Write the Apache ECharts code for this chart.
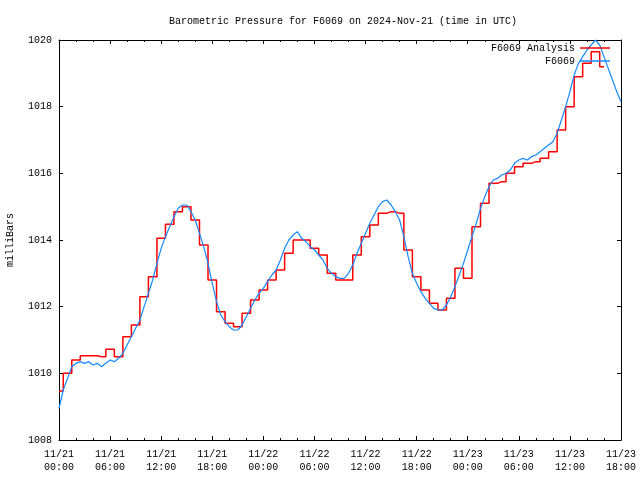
<!DOCTYPE html>
<html>
<head>
<meta charset="utf-8">
<script src="https://cdn.jsdelivr.net/npm/echarts@6/dist/echarts.min.js"></script>
<style>html,body{margin:0;padding:0;background:#fff;}#c{width:640px;height:480px;}</style>
</head>
<body>
<div id="c"></div>
<script>
// x tick labels every 6 hours from 2024-11-21 00:00 UTC
var xTickLabels = ["11/21\n00:00","11/21\n06:00","11/21\n12:00","11/21\n18:00","11/22\n00:00","11/22\n06:00","11/22\n12:00","11/22\n18:00","11/23\n00:00","11/23\n06:00","11/23\n12:00","11/23\n18:00"];
var yTicks = [1008, 1010, 1012, 1014, 1016, 1018, 1020];

// F6069 Analysis: hourly values (hour 0 .. 64)
var analysisValues = [
 1009.47,1010.0,1010.4,1010.53,1010.53,1010.5,1010.72,1010.5,1011.1,1011.45,
 1012.3,1012.9,1014.05,1014.47,1014.85,1015.0,1014.6,1013.85,1012.8,1011.85,
 1011.5,1011.4,1011.8,1012.2,1012.5,1012.8,1013.1,1013.6,1014.0,1014.0,
 1013.75,1013.55,1013.0,1012.8,1012.8,1013.55,1014.1,1014.45,1014.8,1014.85,
 1014.8,1013.7,1012.9,1012.5,1012.1,1011.9,1012.25,1013.15,1012.85,1014.4,
 1015.1,1015.7,1015.75,1016.0,1016.2,1016.3,1016.35,1016.45,1016.65,1017.3,
 1018.0,1018.9,1019.3,1019.65,1019.2
];

// F6069 observations: every half hour (hour 0 .. 66)
var stationValues = [
 1008.95,1009.5,1009.85,1010.2,1010.3,1010.35,1010.3,1010.35,1010.25,1010.3,
 1010.2,1010.3,1010.4,1010.35,1010.45,1010.6,1010.85,1011.1,1011.35,1011.6,
 1012.0,1012.4,1012.8,1013.3,1013.75,1014.1,1014.4,1014.7,1014.95,1015.05,
 1015.05,1014.85,1014.6,1014.2,1013.8,1013.3,1012.7,1012.15,1011.75,1011.55,
 1011.4,1011.3,1011.3,1011.45,1011.7,1011.95,1012.2,1012.4,1012.55,1012.75,
 1012.95,1013.1,1013.4,1013.75,1014.0,1014.15,1014.25,1014.05,1013.95,1013.8,
 1013.7,1013.55,1013.4,1013.15,1013.0,1012.9,1012.85,1012.85,1013.0,1013.25,
 1013.6,1013.9,1014.2,1014.5,1014.75,1015.0,1015.15,1015.2,1015.05,1014.85,
 1014.6,1014.1,1013.5,1013.0,1012.7,1012.45,1012.25,1012.1,1011.95,1011.9,
 1011.9,1012.05,1012.3,1012.6,1012.95,1013.3,1013.7,1014.1,1014.5,1014.95,
 1015.3,1015.6,1015.8,1015.85,1015.95,1016.0,1016.1,1016.3,1016.4,1016.45,
 1016.4,1016.5,1016.55,1016.65,1016.75,1016.85,1016.95,1017.2,1017.6,1018.0,
 1018.45,1018.95,1019.3,1019.5,1019.7,1019.85,1020.0,1019.85,1019.5,1019.15,
 1018.8,1018.45,1018.15
];

var analysisData = analysisValues.map(function(v, i){ return [i, v]; });
var stationData = stationValues.map(function(v, i){ return [i * 0.5, v]; });

var font = "'Liberation Mono','DejaVu Sans Mono',monospace";
var chart = echarts.init(document.getElementById('c'), null, {renderer: 'canvas'});

var xCommon = {
  type: 'value', min: 0, max: 66, interval: 6,
  axisLine: {show: true, onZero: false, lineStyle: {color: '#000', width: 1}},
  axisTick: {show: true, inside: true, length: 4, lineStyle: {color: '#000'}},
  minorTick: {show: true, splitNumber: 3, length: 2, lineStyle: {color: '#000'}},
  splitLine: {show: false}
};
var yCommon = {
  type: 'value', min: 1008, max: 1020, interval: 2,
  axisLine: {show: true, onZero: false, lineStyle: {color: '#000', width: 1}},
  axisTick: {show: true, inside: true, length: 4, lineStyle: {color: '#000'}},
  splitLine: {show: false}
};

chart.setOption({
  animation: false,
  backgroundColor: '#fff',
  title: {
    text: 'Barometric Pressure for F6069 on 2024-Nov-21 (time in UTC)',
    left: 338, textAlign: 'center', top: 10,
    textStyle: {fontFamily: font, fontSize: 10, fontWeight: 'normal', color: '#000', lineHeight: 13}
  },
  legend: {
    orient: 'vertical', right: 25, top: 37, align: 'right',
    icon: 'rect', itemWidth: 30, itemHeight: 1.5, itemGap: 1,
    textStyle: {fontFamily: font, fontSize: 10, color: '#000', lineHeight: 12},
    data: ['F6069 Analysis', 'F6069']
  },
  grid: {left: 59, right: 19, top: 40, bottom: 40, containLabel: false, outerBoundsMode: 'none'},
  xAxis: [
    Object.assign({}, xCommon, {
      position: 'bottom',
      axisLabel: {
        show: true, margin: 8, color: '#000', fontFamily: font, fontSize: 10, lineHeight: 13,
        formatter: function(v){ return xTickLabels[Math.round(v / 6)]; }
      }
    }),
    Object.assign({}, xCommon, {position: 'top', axisLabel: {show: false}})
  ],
  yAxis: [
    Object.assign({}, yCommon, {
      position: 'left',
      name: 'milliBars', nameLocation: 'middle', nameGap: 44, nameRotate: 90,
      nameTextStyle: {fontFamily: font, fontSize: 10, color: '#000'},
      axisLabel: {show: true, margin: 7, color: '#000', fontFamily: font, fontSize: 10,
        formatter: function(v){ return yTicks.indexOf(v) >= 0 ? String(v) : ''; }}
    }),
    Object.assign({}, yCommon, {position: 'right', axisLabel: {show: false}})
  ],
  series: [
    {
      name: 'F6069 Analysis', type: 'line', step: 'middle',
      xAxisIndex: 0, yAxisIndex: 0,
      data: analysisData, symbol: 'none',
      lineStyle: {color: '#ff0000', width: 1.5}, itemStyle: {color: '#ff0000'}
    },
    {
      name: 'F6069', type: 'line',
      xAxisIndex: 0, yAxisIndex: 0,
      data: stationData, symbol: 'none',
      lineStyle: {color: '#1589ff', width: 1.2}, itemStyle: {color: '#1589ff'}
    }
  ]
});
</script>
</body>
</html>
